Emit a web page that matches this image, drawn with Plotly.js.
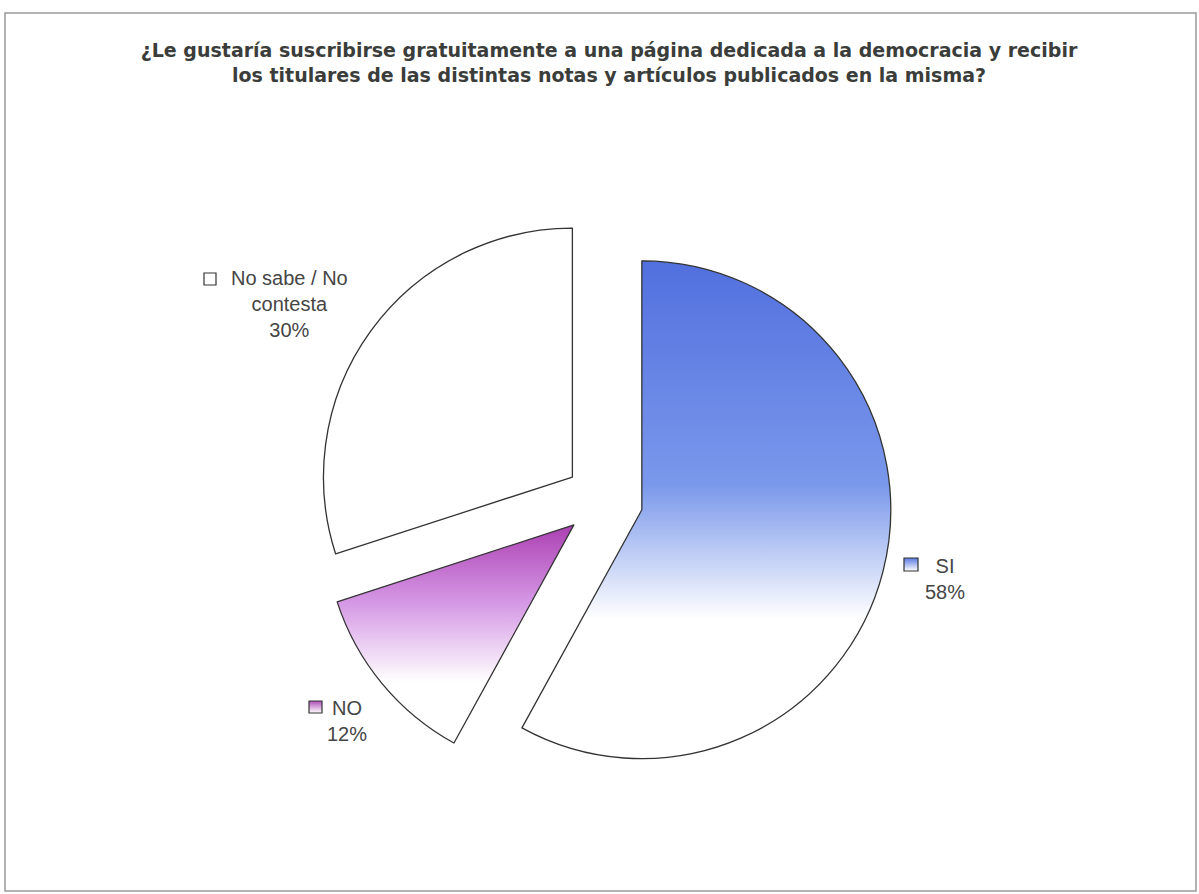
<!DOCTYPE html>
<html>
<head>
<meta charset="utf-8">
<script src="https://cdn.plot.ly/plotly-3.0.1.min.js"></script>
<style>
  html, body { margin: 0; padding: 0; background: #ffffff; }
  #chart { width: 1199px; height: 894px; }
</style>
</head>
<body>
<div id="chart"></div>
<script>
// ---- data ----
const titleLines = [
  "¿Le gustaría suscribirse gratuitamente a una página dedicada a la democracia y recibir",
  "los titulares de las distintas notas y artículos publicados en la misma?"
];
const categories = ["SI", "NO", "No sabe / No contesta"];
const displayLabels = ["SI", "NO", "No sabe / No<br>contesta"];
const percents = [58, 12, 30];

// ---- style ----
const W = 1199, H = 894;
const px = x => x / W;
const py = y => 1 - y / H;

const sliceBase = ["rgb(120,150,234)", "rgb(212,150,228)", "#ffffff"];
const keyFill = ["#a9bbef", "#dcaee6", "#ffffff"];

// label placement (pixel anchors, style only)
const labelPos = [
  {x: 945, y: 579},
  {x: 347, y: 721},
  {x: 289, y: 304}
];
const keyBox = [
  [904, 558, 918, 571],
  [309, 701, 322, 713],
  [204, 273, 216, 285]
];

const annotations = categories.map((c, i) => ({
  xref: 'paper', yref: 'paper',
  x: px(labelPos[i].x), y: py(labelPos[i].y),
  xanchor: 'center', yanchor: 'middle',
  text: displayLabels[i] + '<br>' + percents[i] + '%',
  showarrow: false, align: 'center',
  font: {family: 'Liberation Sans, Arial, sans-serif', size: 20, color: '#454545'}
}));

const shapes = keyBox.map((b, i) => ({
  type: 'rect', xref: 'paper', yref: 'paper',
  x0: px(b[0]), x1: px(b[2]), y0: py(b[3]), y1: py(b[1]),
  fillcolor: keyFill[i], line: {color: '#333333', width: 1.2}
}));
// outer frame
shapes.push({
  type: 'rect', xref: 'paper', yref: 'paper',
  x0: px(5), x1: px(1196), y0: py(891), y1: py(13),
  fillcolor: 'rgba(0,0,0,0)', line: {color: '#9a9a9a', width: 1.5}
});

const trace = {
  type: 'pie',
  labels: categories,
  values: percents,
  sort: false,
  direction: 'clockwise',
  rotation: 0,
  pull: [0.157, 0.157, 0.157],
  textinfo: 'none',
  hoverinfo: 'none',
  showlegend: false,
  marker: {colors: sliceBase, line: {color: '#333333', width: 1.3}},
  domain: {x: [px(604 - 288), px(604 + 288)], y: [py(500 + 288), py(500 - 288)]}
};

const layout = {
  width: W, height: H,
  margin: {l: 0, r: 0, t: 0, b: 0},
  paper_bgcolor: '#ffffff',
  plot_bgcolor: '#ffffff',
  title: {
    text: '<b>' + titleLines.join('<br>') + '</b>',
    x: px(609), xanchor: 'center',
    y: py(57), yanchor: 'middle',
    font: {family: 'DejaVu Sans, Liberation Sans, sans-serif', size: 19, color: '#3a3d3a'}
  },
  annotations: annotations,
  shapes: shapes
};

Plotly.newPlot('chart', [trace], layout, {displayModeBar: false, staticPlot: true}).then(gd => {
  const svg = gd.querySelector('svg.main-svg');
  const ns = 'http://www.w3.org/2000/svg';
  let defs = svg.querySelector('defs');
  if (!defs) { defs = document.createElementNS(ns, 'defs'); svg.insertBefore(defs, svg.firstChild); }
  const grads = {
    gSI: [[0, 'rgb(82,112,222)'], [0.45, 'rgb(122,152,235)'], [0.72, '#ffffff'], [1, '#ffffff']],
    gNO: [[0, 'rgb(172,64,178)'], [0.35, 'rgb(212,150,228)'], [0.72, '#ffffff'], [1, '#ffffff']],
    kSI: [[0, 'rgb(90,120,225)'], [1, '#ffffff']],
    kNO: [[0, 'rgb(176,80,184)'], [1, '#ffffff']]
  };
  Object.keys(grads).forEach(id => {
    const g = document.createElementNS(ns, 'linearGradient');
    g.setAttribute('id', id);
    g.setAttribute('x1', '0'); g.setAttribute('y1', '0');
    g.setAttribute('x2', '0'); g.setAttribute('y2', '1');
    grads[id].forEach(s => {
      const st = document.createElementNS(ns, 'stop');
      st.setAttribute('offset', s[0]);
      st.setAttribute('stop-color', s[1]);
      g.appendChild(st);
    });
    defs.appendChild(g);
  });
  const paths = gd.querySelectorAll('.slice path.surface');
  if (paths[0]) paths[0].style.fill = 'url(#gSI)';
  if (paths[1]) paths[1].style.fill = 'url(#gNO)';
  const shp = gd.querySelectorAll('.shapelayer path');
  if (shp[0]) shp[0].style.fill = 'url(#kSI)';
  if (shp[1]) shp[1].style.fill = 'url(#kNO)';
});
</script>
</body>
</html>
